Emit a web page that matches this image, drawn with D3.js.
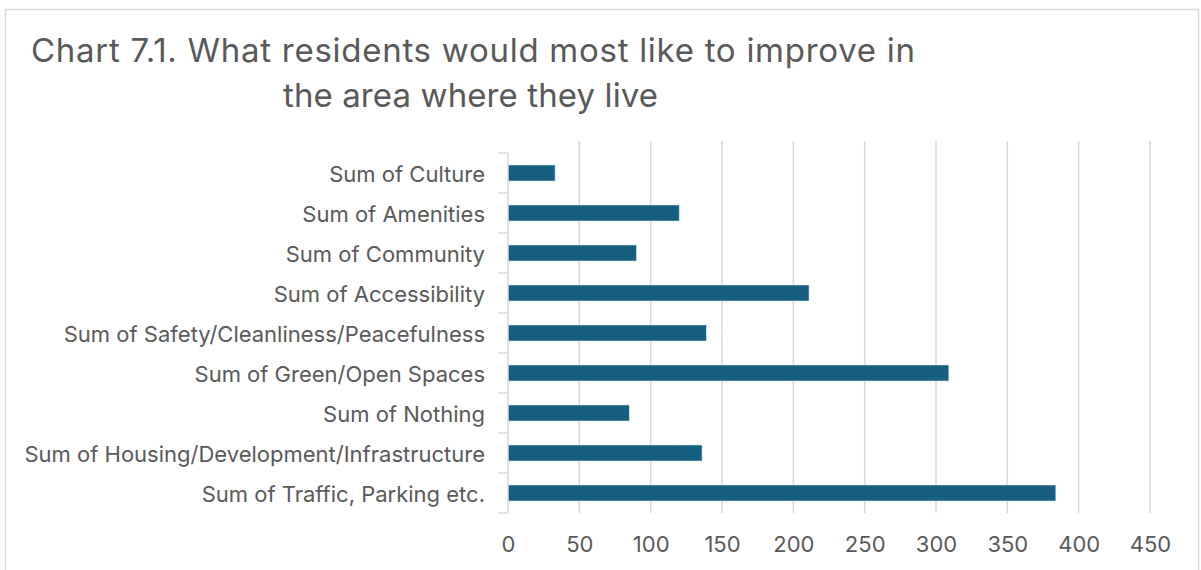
<!DOCTYPE html>
<html>
<head>
<meta charset="utf-8">
<script src="https://cdn.jsdelivr.net/npm/d3@7"></script>
<style>
  html, body { margin: 0; padding: 0; background: #fff; }
  svg { display: block; font-family: Inter, "Noto Sans", sans-serif; }
</style>
</head>
<body>
<svg id="chart" width="1201" height="570"></svg>
<script>
// Categories, listed top to bottom
const categories = [
  "Sum of Culture",
  "Sum of Amenities",
  "Sum of Community",
  "Sum of Accessibility",
  "Sum of Safety/Cleanliness/Peacefulness",
  "Sum of Green/Open Spaces",
  "Sum of Nothing",
  "Sum of Housing/Development/Infrastructure",
  "Sum of Traffic, Parking etc."
];
const values = [33, 120, 90, 211, 139, 309, 85, 136, 384];
const xTicks = [0, 50, 100, 150, 200, 250, 300, 350, 400, 450];
const titleLines = [
  "Chart 7.1. What residents would most like to improve in",
  "the area where they live"
];

const svg = d3.select("#chart");
const textColor = "#595959";
const gridColor = "#d9d9d9";
const barColor = "#175f81";

// outer chart frame
svg.append("rect")
  .attr("x", 5.5).attr("y", 9.5)
  .attr("width", 1193).attr("height", 600)
  .attr("fill", "#fff")
  .attr("stroke", gridColor).attr("stroke-width", 1.5);

// title, two lines
svg.append("text")
  .attr("x", 31).attr("y", 62)
  .attr("font-size", 33).attr("fill", textColor)
  .attr("textLength", 884).attr("lengthAdjust", "spacing")
  .text(titleLines[0]);
svg.append("text")
  .attr("x", 283).attr("y", 107)
  .attr("font-size", 33).attr("fill", textColor)
  .attr("textLength", 375).attr("lengthAdjust", "spacing")
  .text(titleLines[1]);

const plot = { left: 508, right: 1150, top: 153, bottom: 513 };

const x = d3.scaleLinear().domain([0, 450]).range([plot.left, plot.right]);
const y = d3.scaleBand().domain(categories).range([plot.top, plot.bottom]).paddingInner(0.6).paddingOuter(0.3);
const yAxisBand = d3.scaleBand().domain(categories).range([plot.top, plot.bottom]);

// vertical gridlines
svg.append("g")
  .selectAll("line")
  .data(xTicks.filter(d => d > 0))
  .join("line")
  .attr("x1", d => x(d)).attr("x2", d => x(d))
  .attr("y1", plot.top - 12).attr("y2", plot.bottom)
  .attr("stroke", gridColor).attr("stroke-width", 1.5);

// bars
svg.append("g")
  .selectAll("rect")
  .data(categories)
  .join("rect")
  .attr("x", x(0))
  .attr("y", d => y(d))
  .attr("width", (d, i) => x(values[i]) - x(0))
  .attr("height", y.bandwidth())
  .attr("fill", barColor)
  .attr("stroke", "#cfe0ea").attr("stroke-width", 0.6);

// category axis line with ticks at band boundaries
const gy = svg.append("g").attr("transform", `translate(${plot.left},0)`);
gy.append("line")
  .attr("x1", 0).attr("x2", 0)
  .attr("y1", plot.top).attr("y2", plot.bottom)
  .attr("stroke", gridColor).attr("stroke-width", 1.5);
gy.selectAll("line.bound")
  .data(categories.map(c => yAxisBand(c)).concat([plot.bottom]))
  .join("line")
  .attr("class", "bound")
  .attr("x1", -10).attr("x2", 0)
  .attr("y1", d => d).attr("y2", d => d)
  .attr("stroke", gridColor).attr("stroke-width", 1.5);

// category labels
svg.append("g")
  .selectAll("text")
  .data(categories)
  .join("text")
  .attr("x", 485)
  .attr("y", d => yAxisBand(d) + yAxisBand.bandwidth() / 2)
  .attr("dy", "0.4em")
  .attr("text-anchor", "end")
  .attr("font-size", 22)
  .attr("fill", textColor)
  .text(d => d);

// value axis labels
const xAxis = d3.axisBottom(x).tickValues(xTicks).tickSize(0).tickPadding(0);
const gx = svg.append("g").attr("transform", `translate(0,${plot.bottom})`).call(xAxis);
gx.select(".domain").remove();
gx.selectAll("text")
  .attr("y", 39)
  .attr("dy", "0")
  .attr("font-size", 22)
  .attr("font-family", "Inter, 'Noto Sans', sans-serif")
  .attr("fill", textColor);
</script>
</body>
</html>
